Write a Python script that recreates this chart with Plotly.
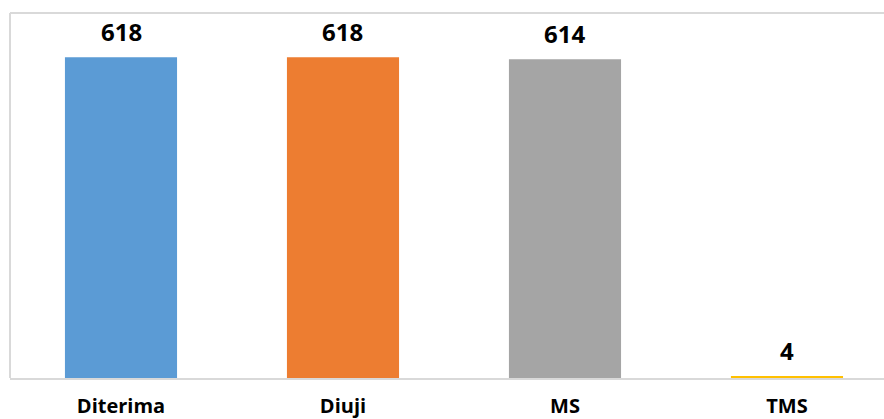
import plotly.graph_objects as go

# Data
categories = ["Diterima", "Diuji", "MS", "TMS"]
values = [618, 618, 614, 4]
bar_colors = ["#5B9BD5", "#ED7D31", "#A5A5A5", "#FFC000"]

font_family = "Open Sans"

fig = go.Figure()
fig.add_trace(go.Bar(
    x=categories,
    y=values,
    marker=dict(color=bar_colors, line=dict(width=0)),
    hoverinfo="x+y",
))

# Value labels above each bar
annotations = [
    dict(
        x=c, y=v, xref="x", yref="y",
        text=f"<b>{v}</b>",
        showarrow=False,
        yanchor="bottom",
        yshift=7,
        font=dict(family=font_family, size=24, color="#000000"),
    )
    for c, v in zip(categories, values)
]

# Light frame around the plot area (left and top edges)
frame = dict(type="line", xref="paper", yref="paper",
             line=dict(color="#D9D9D9", width=2))
shapes = [
    dict(frame, x0=0, x1=0, y0=0, y1=1),
    dict(frame, x0=0, x1=1, y0=1, y1=1),
]

fig.update_layout(
    width=884,
    height=419,
    margin=dict(l=10, r=0, t=13, b=41),
    paper_bgcolor="white",
    plot_bgcolor="white",
    bargap=0.495,
    showlegend=False,
    annotations=annotations,
    shapes=shapes,
    xaxis=dict(
        type="category",
        range=[-0.5, 3.437],
        automargin=False,
        showgrid=False,
        showline=True,
        linecolor="#D9D9D9",
        linewidth=2,
        ticks="",
        ticklabelstandoff=9,
        tickfont=dict(family=font_family, size=20, color="#000000", weight="bold"),
        fixedrange=True,
    ),
    yaxis=dict(
        range=[0, 703],
        automargin=False,
        showgrid=False,
        showline=False,
        zeroline=False,
        showticklabels=False,
        ticks="",
        fixedrange=True,
    ),
)

fig.write_html("out.html")
